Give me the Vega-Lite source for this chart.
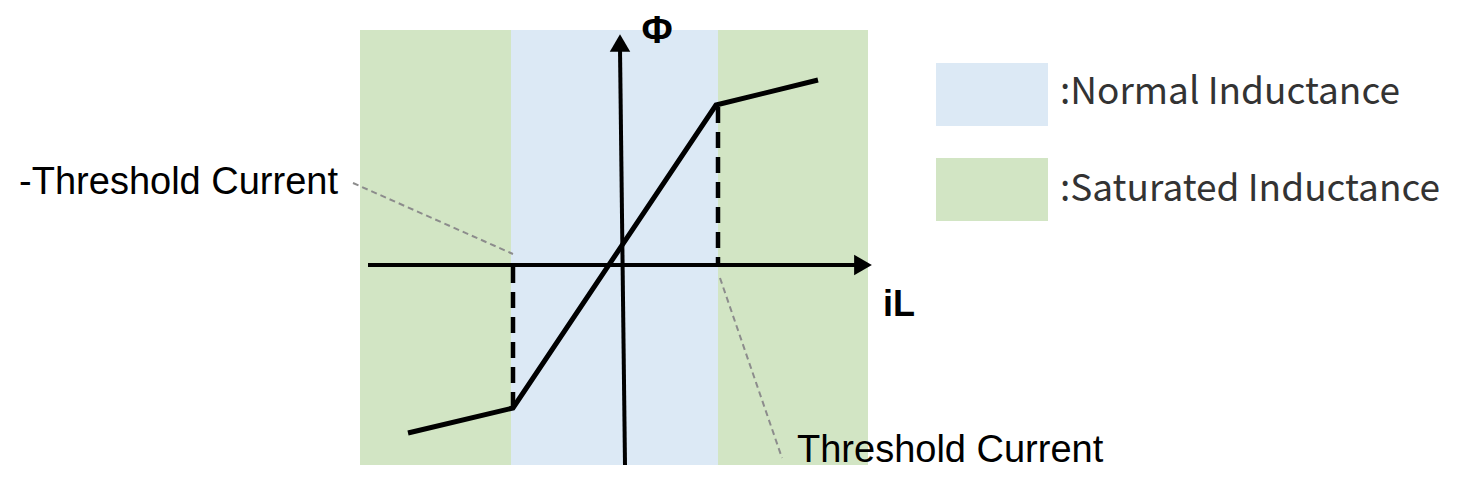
{
  "$schema": "https://vega.github.io/schema/vega-lite/v6.json",
  "width": 1467,
  "height": 493,
  "padding": 0,
  "autosize": {"type": "none"},
  "background": "white",
  "config": {"view": {"stroke": null}},
  "datasets": {
    "regions": [
      {"x1": -2.62, "x2": -1.11, "y1": -2.0, "y2": 2.35, "kind": "Saturated"},
      {"x1": -1.11, "x2": 0.96, "y1": -2.0, "y2": 2.35, "kind": "Normal"},
      {"x1": 0.96, "x2": 2.46, "y1": -2.0, "y2": 2.35, "kind": "Saturated"}
    ],
    "legend": [
      {"x1": 3.14, "x2": 4.26, "y1": 1.39, "y2": 2.02, "kind": "Normal", "label": ":Normal Inductance", "lx": 4.38, "ly": 1.72},
      {"x1": 3.14, "x2": 4.26, "y1": 0.44, "y2": 1.07, "kind": "Saturated", "label": ":Saturated Inductance", "lx": 4.38, "ly": 0.75}
    ],
    "axes": [
      {"seg": "h", "i": 0, "x": -2.54, "y": 0},
      {"seg": "h", "i": 1, "x": 2.36, "y": 0},
      {"seg": "v", "i": 0, "x": 0.03, "y": -2.0},
      {"seg": "v", "i": 1, "x": -0.02, "y": 2.16}
    ],
    "arrows": [
      {"x": 2.41, "y": 0, "shape": "triangle-right"},
      {"x": -0.02, "y": 2.22, "shape": "triangle-up"}
    ],
    "curve": [
      {"i": 0, "x": -2.14, "y": -1.68},
      {"i": 1, "x": -1.09, "y": -1.43},
      {"i": 2, "x": 0.94, "y": 1.6},
      {"i": 3, "x": 1.96, "y": 1.85}
    ],
    "dashes": [
      {"seg": "a", "i": 0, "x": -1.09, "y": -0.02},
      {"seg": "a", "i": 1, "x": -1.09, "y": -1.41},
      {"seg": "b", "i": 0, "x": 0.96, "y": 1.58},
      {"seg": "b", "i": 1, "x": 0.96, "y": 0.02}
    ],
    "leaders": [
      {"seg": "l", "i": 0, "x": -2.69, "y": 0.82},
      {"seg": "l", "i": 1, "x": -1.09, "y": 0.11},
      {"seg": "r", "i": 0, "x": 0.98, "y": -0.13},
      {"seg": "r", "i": 1, "x": 1.6, "y": -1.93}
    ],
    "leftLabel": [
      {"text": "-Threshold Current", "x": -2.84, "y": 0.82}
    ],
    "rightLabel": [
      {"text": "Threshold Current", "x": 1.75, "y": -1.86}
    ],
    "phi": [
      {"text": "Φ", "x": 0.35, "y": 2.33}
    ],
    "il": [
      {"text": "iL", "x": 2.77, "y": -0.4}
    ]
  },
  "layer": [
    {
      "data": {"name": "regions"},
      "mark": {"type": "rect"},
      "encoding": {
        "x": {"field": "x1", "type": "quantitative", "scale": {"domain": [-6.22, 8.45], "nice": false, "zero": false}, "axis": null},
        "x2": {"field": "x2"},
        "y": {"field": "y1", "type": "quantitative", "scale": {"domain": [-2.28, 2.65], "nice": false, "zero": false}, "axis": null},
        "y2": {"field": "y2"},
        "color": {"field": "kind", "type": "nominal", "scale": {"domain": ["Normal", "Saturated"], "range": ["#DCE9F5", "#D2E5C4"]}, "legend": null}
      }
    },
    {
      "data": {"name": "legend"},
      "mark": {"type": "rect"},
      "encoding": {
        "x": {"field": "x1", "type": "quantitative"},
        "x2": {"field": "x2"},
        "y": {"field": "y1", "type": "quantitative"},
        "y2": {"field": "y2"},
        "color": {"field": "kind", "type": "nominal", "legend": null}
      }
    },
    {
      "data": {"name": "legend"},
      "mark": {"type": "text", "align": "left", "baseline": "middle", "font": "Noto Sans CJK JP", "fontSize": 37, "color": "#333333"},
      "encoding": {
        "x": {"field": "lx", "type": "quantitative"},
        "y": {"field": "ly", "type": "quantitative"},
        "text": {"field": "label"}
      }
    },
    {
      "data": {"name": "leaders"},
      "mark": {"type": "line", "color": "#8C8C8C", "strokeWidth": 2, "strokeDash": [6, 4]},
      "encoding": {
        "x": {"field": "x", "type": "quantitative"},
        "y": {"field": "y", "type": "quantitative"},
        "detail": {"field": "seg"},
        "order": {"field": "i"}
      }
    },
    {
      "data": {"name": "dashes"},
      "mark": {"type": "line", "color": "black", "strokeWidth": 4.5, "strokeDash": [16, 9], "strokeCap": "butt"},
      "encoding": {
        "x": {"field": "x", "type": "quantitative"},
        "y": {"field": "y", "type": "quantitative"},
        "detail": {"field": "seg"},
        "order": {"field": "i"}
      }
    },
    {
      "data": {"name": "axes"},
      "mark": {"type": "line", "color": "black", "strokeWidth": 4, "strokeCap": "butt"},
      "encoding": {
        "x": {"field": "x", "type": "quantitative"},
        "y": {"field": "y", "type": "quantitative"},
        "detail": {"field": "seg"},
        "order": {"field": "i"}
      }
    },
    {
      "data": {"name": "arrows"},
      "mark": {"type": "point", "filled": true, "color": "black", "opacity": 1, "size": 420},
      "encoding": {
        "x": {"field": "x", "type": "quantitative"},
        "y": {"field": "y", "type": "quantitative"},
        "shape": {"field": "shape", "type": "nominal", "scale": null, "legend": null}
      }
    },
    {
      "data": {"name": "curve"},
      "mark": {"type": "line", "color": "black", "strokeWidth": 5, "strokeJoin": "miter"},
      "encoding": {
        "x": {"field": "x", "type": "quantitative"},
        "y": {"field": "y", "type": "quantitative"},
        "order": {"field": "i"}
      }
    },
    {
      "data": {"name": "leftLabel"},
      "mark": {"type": "text", "align": "right", "baseline": "middle", "font": "Liberation Sans", "fontSize": 38, "color": "black"},
      "encoding": {
        "x": {"field": "x", "type": "quantitative"},
        "y": {"field": "y", "type": "quantitative"},
        "text": {"field": "text"}
      }
    },
    {
      "data": {"name": "rightLabel"},
      "mark": {"type": "text", "align": "left", "baseline": "middle", "font": "Liberation Sans", "fontSize": 38, "color": "black"},
      "encoding": {
        "x": {"field": "x", "type": "quantitative"},
        "y": {"field": "y", "type": "quantitative"},
        "text": {"field": "text"}
      }
    },
    {
      "data": {"name": "phi"},
      "mark": {"type": "text", "align": "center", "baseline": "middle", "font": "Liberation Sans", "fontWeight": "bold", "fontSize": 38, "color": "black"},
      "encoding": {
        "x": {"field": "x", "type": "quantitative"},
        "y": {"field": "y", "type": "quantitative"},
        "text": {"field": "text"}
      }
    },
    {
      "data": {"name": "il"},
      "mark": {"type": "text", "align": "center", "baseline": "middle", "font": "Liberation Sans", "fontWeight": "bold", "fontSize": 36, "color": "black"},
      "encoding": {
        "x": {"field": "x", "type": "quantitative"},
        "y": {"field": "y", "type": "quantitative"},
        "text": {"field": "text"}
      }
    }
  ]
}
